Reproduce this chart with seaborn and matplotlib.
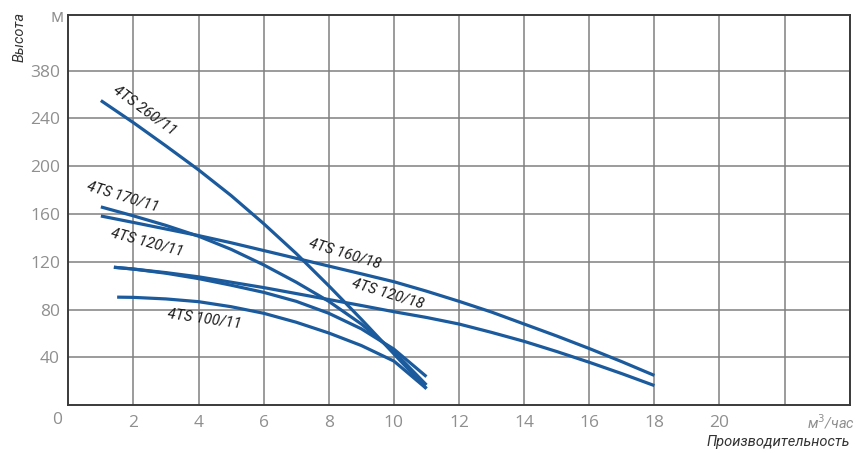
import pandas as pd
import seaborn as sns
import matplotlib.pyplot as plt

# Pump curves: x = flow (m3/h), y = head (m, read on the chart's grid scale)
x_260_11 = [1, 2, 3, 4, 5, 6, 7, 8, 9, 10, 11]
y_260_11 = [255, 236.5, 217, 197, 175.5, 152, 127, 100, 72, 43, 14]

x_170_11 = [1, 2, 3, 4, 5, 6, 7, 8, 9, 10, 11]
y_170_11 = [166, 158.5, 150.5, 141.5, 130.5, 117.5, 103, 87, 68, 45, 17]

x_160_18 = [1, 2, 3, 4, 5, 6, 7, 8, 9, 10, 11, 12, 13, 14, 15, 16, 17, 18]
y_160_18 = [158.4, 153, 147.5, 142, 136, 129.5, 123, 116.5, 110, 103.4,
            95.5, 87, 78, 68, 58, 47.5, 36.5, 25]

x_120_18 = [1.4, 2, 3, 4, 5, 6, 7, 8, 9, 10, 11, 12, 13, 14, 15, 16, 17, 18]
y_120_18 = [115.5, 114, 111, 107.5, 103, 98.5, 93.5, 88.5, 83.5, 78.3,
            73.5, 68, 61, 53.5, 45, 36, 26.5, 16.5]

x_120_11 = [1.4, 2, 3, 4, 5, 6, 7, 8, 9, 10, 11]
y_120_11 = [115.5, 114, 110.5, 106, 100.5, 94.5, 87, 77, 64, 47, 24]

x_100_11 = [1.5, 2, 3, 4, 5, 6, 7, 8, 9, 10, 11]
y_100_11 = [90.5, 90.3, 89, 86.7, 82.5, 77, 69.5, 60.5, 50, 37, 14]

curves = [
    ("4TS 260/11", x_260_11, y_260_11),
    ("4TS 170/11", x_170_11, y_170_11),
    ("4TS 160/18", x_160_18, y_160_18),
    ("4TS 120/18", x_120_18, y_120_18),
    ("4TS 120/11", x_120_11, y_120_11),
    ("4TS 100/11", x_100_11, y_100_11),
]

# curve labels: (text, x, y, rotation)
labels = [
    ("4TS 260/11", 2.35, 247, -36),
    ("4TS 170/11", 1.69, 175, -17),
    ("4TS 120/11", 2.42, 136.6, -15),
    ("4TS 160/18", 8.48, 126.6, -17),
    ("4TS 120/18", 9.8, 93.9, -17),
    ("4TS 100/11", 4.18, 72.8, -8),
]

x_ticks = [2, 4, 6, 8, 10, 12, 14, 16, 18, 20]
y_ticks = [40, 80, 120, 160, 200, 240, 280]
y_ticklabels = ["40", "80", "120", "160", "200", "240", "380"]

sns.set_style("white")
plt.rcParams['font.family'] = ['Open Sans', 'DejaVu Sans']

fig = plt.figure(figsize=(8.57, 4.53), dpi=100)
ax = fig.add_axes([0.0797, 0.1053, 0.9118, 0.8622])

line_color = "#1b5b9d"
for name, xs, ys in curves:
    sns.lineplot(x=xs, y=ys, ax=ax, color=line_color, lw=2.3, sort=False,
                 solid_capstyle="butt")

ax.set_xlim(0, 24)
ax.set_ylim(0, 326.8)
ax.set_xticks(x_ticks)
ax.set_yticks(y_ticks)
ax.set_yticklabels(y_ticklabels)
ax.set_xticks([22, 24], minor=True)
ax.tick_params(axis="both", length=0, labelsize=12.5, labelcolor="#8f8f8f")
ax.tick_params(axis="x", pad=7)
ax.tick_params(axis="y", pad=6)
ax.grid(True, which="both", color="#808080", lw=1.1)
ax.set_axisbelow(True)
for sp in ax.spines.values():
    sp.set_color("#3a3a3a")
    sp.set_linewidth(1.4)
ax.set_xlabel("")
ax.set_ylabel("")

lab_font = ['Roboto', 'DejaVu Sans']
for text, lx, ly, rot in labels:
    ax.text(lx, ly, text, rotation=rot, rotation_mode="anchor",
            ha="center", va="center", fontsize=10.5, style="italic",
            family=lab_font, color="#1a1a1a")

# corner texts
fig.text(57 / 857, 1 - 420 / 453, "0", ha="center", va="center",
         fontsize=12.5, color="#8f8f8f")
fig.text(64 / 857, 1 - 17 / 453, "м", ha="right", va="center",
         fontsize=13, color="#8f8f8f")
fig.text(20 / 857, 1 - 37 / 453, "Высота", rotation=90, ha="center",
         va="center", fontsize=10.5, style="italic", family=lab_font,
         color="#333333")
fig.text(855 / 857, 1 - 422 / 453, "м$^3$/час", ha="right", va="center",
         fontsize=10.5, style="italic", family=lab_font, color="#8f8f8f")
fig.text(850 / 857, 1 - 442 / 453, "Производительность", ha="right",
         va="center", fontsize=10.5, style="italic", family=lab_font,
         color="#333333")

fig.savefig("out.png", dpi=100)
